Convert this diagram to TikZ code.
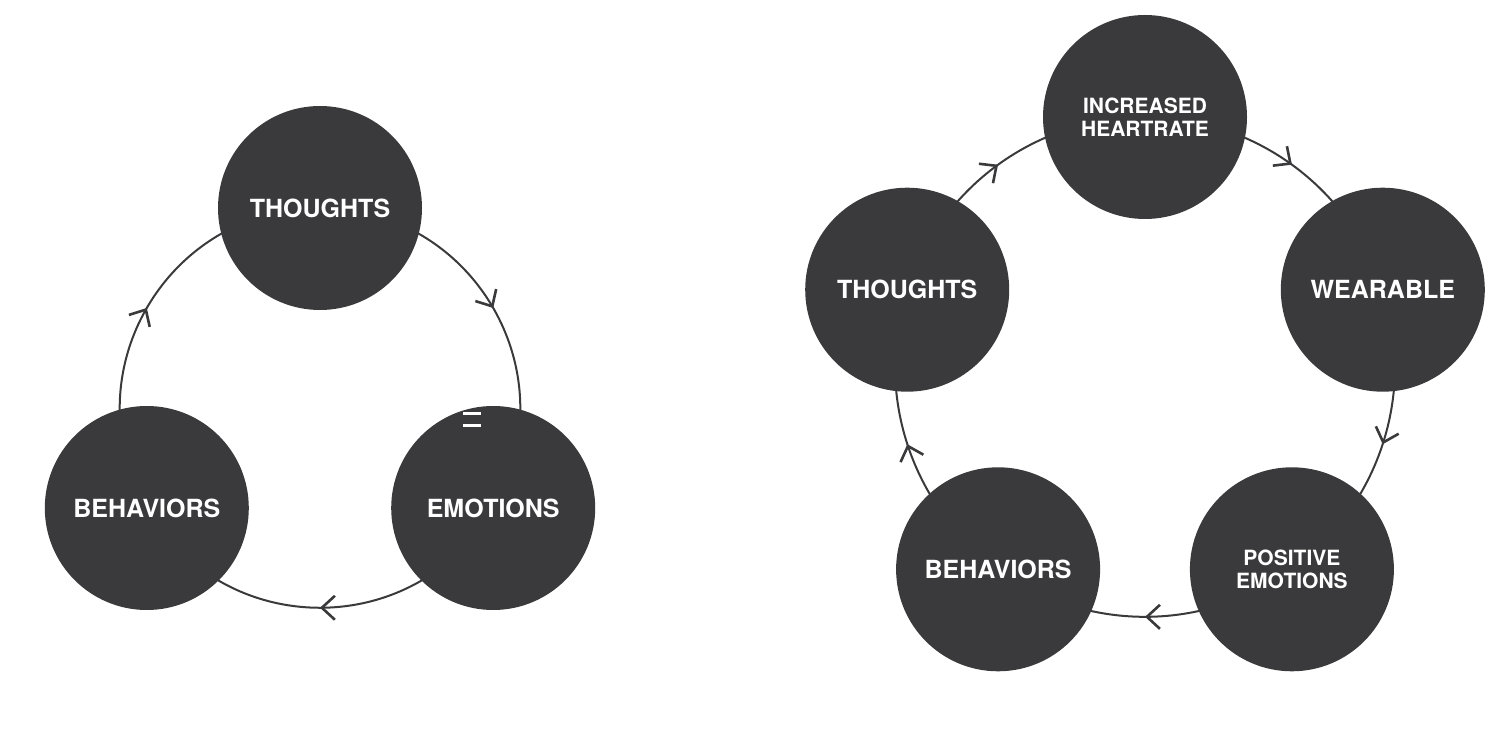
\documentclass[tikz,border=0pt]{standalone}
\usepackage{fontspec}
\setmainfont{TeX Gyre Heros}
\usepackage{xcolor}
\usepackage{tikz}
\usetikzlibrary{arrows.meta,decorations.markings,backgrounds}
\definecolor{bubblegray}{HTML}{3A3A3C}
\tikzset{
	bubble/.style={circle, fill=bubblegray, minimum size=204pt, inner sep=0pt, text=white, align=center, font=\fontsize{25}{28}\selectfont\bfseries},
	twoline/.style={font=\fontsize{21}{23}\selectfont\bfseries},
	cycle/.style={color=bubblegray, line width=2pt, postaction={decorate},
		decoration={markings, mark=at position 0.5 with {\arrow{Straight Barb[length=13pt,width=24pt,line width=2.6pt]}}}},
}

\begin{document}
\begin{tikzpicture}[x=1pt, y=1pt]
	\useasboundingbox (0,0) rectangle (1501,750);
	% left loop
	\node[bubble] (thoughtsL) at (320,542) {THOUGHTS};
	\node[bubble] (emotionsL) at (493.2,242) {EMOTIONS};
	\node[bubble] (behaviorsL) at (146.8,242) {BEHAVIORS};
	\draw[white, line width=3.5pt] (463,336.5) -- (481,336.5);
	\draw[white, line width=3.5pt] (463,324.5) -- (481,324.5);
	% right loop
	\node[bubble, twoline] (heartR) at (1145,633) {INCREASED\\HEARTRATE};
	\node[bubble] (wearableR) at (1382.8,460.3) {WEARABLE};
	\node[bubble, twoline] (positiveR) at (1291.9,180.7) {POSITIVE\\EMOTIONS};
	\node[bubble] (behaviorsR) at (998.1,180.7) {BEHAVIORS};
	\node[bubble] (thoughtsR) at (907.2,460.3) {THOUGHTS};
	\begin{scope}[on background layer]
		\draw[cycle] (thoughtsL.center) to[bend left=60, looseness=1.137] (emotionsL.center);
		\draw[cycle] (emotionsL.center) to[bend left=60, looseness=1.137] (behaviorsL.center);
		\draw[cycle] (behaviorsL.center) to[bend left=60, looseness=1.137] (thoughtsL.center);
		\draw[cycle] (heartR.center) to[bend left=36, looseness=0.941] (wearableR.center);
		\draw[cycle] (wearableR.center) to[bend left=36, looseness=0.941] (positiveR.center);
		\draw[cycle] (positiveR.center) to[bend left=36, looseness=0.941] (behaviorsR.center);
		\draw[cycle] (behaviorsR.center) to[bend left=36, looseness=0.941] (thoughtsR.center);
		\draw[cycle] (thoughtsR.center) to[bend left=36, looseness=0.941] (heartR.center);
	\end{scope}
\end{tikzpicture}
\end{document}
